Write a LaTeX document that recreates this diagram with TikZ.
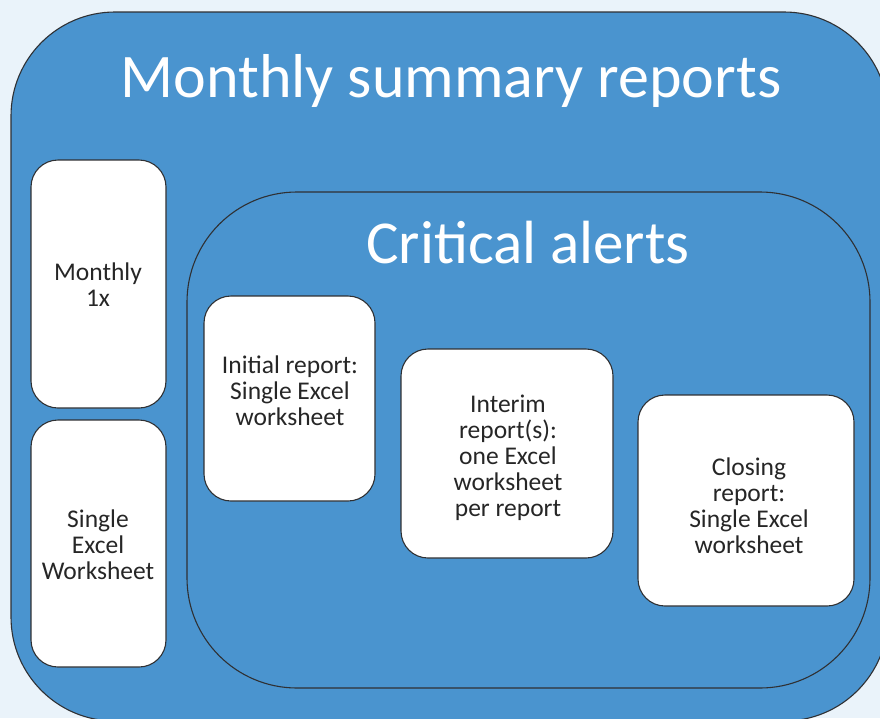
\documentclass[tikz,border=0pt]{standalone}
\usepackage{fontspec}
\setmainfont{Carlito}
\definecolor{bgc}{HTML}{EAF3FA}
\definecolor{blu}{HTML}{4A94CF}
\definecolor{edge}{HTML}{2F3033}
\definecolor{txt}{HTML}{262626}
\tikzset{
  x=1pt, y=-1pt,
  bigbox/.style={draw=edge, line width=1.1pt, fill=blu},
  card/.style={draw=edge, line width=1.1pt, fill=white, rounded corners=27pt},
  bodytxt/.style={text=txt, align=center, font=\fontsize{25.5}{26}\selectfont, inner sep=0pt},
  headtxt/.style={text=white, inner sep=0pt, anchor=base}
}
\begin{document}
\begin{tikzpicture}
\useasboundingbox (0,0) rectangle (880,718);
\fill[bgc] (0,0) rectangle (880,718);
\begin{scope}
\clip (0,0) rectangle (880,718);
\draw[bigbox, rounded corners=104pt] (11,12) rectangle (888,721);
\end{scope}
\node[headtxt, font=\fontsize{62}{68}\selectfont] (title) at (451,97) {Monthly summary reports};
\draw[bigbox, rounded corners=110pt] (187,192) rectangle (870,688);
\node[headtxt, font=\fontsize{61}{67}\selectfont] (crit) at (528,263) {Critical alerts};
% left cards
\draw[card] (31,160) rectangle (166,408);
\node[bodytxt] (monthly) at (98,285) {Monthly\\1x};
\draw[card] (31,420) rectangle (166,667);
\node[bodytxt] (single) at (98,545) {Single\\Excel\\Worksheet};
% critical cards
\draw[card] (204,296) rectangle (375,501);
\node[bodytxt] (initial) at (290,391) {Initial report:\\Single Excel\\worksheet};
\draw[card] (401,349) rectangle (613,558);
\node[bodytxt] (interim) at (508,458) {Interim\\report(s):\\one Excel\\worksheet\\per report};
\draw[card] (638,395) rectangle (854,606);
\node[bodytxt] (closing) at (749,506) {Closing\\report:\\Single Excel\\worksheet};
\end{tikzpicture}
\end{document}
